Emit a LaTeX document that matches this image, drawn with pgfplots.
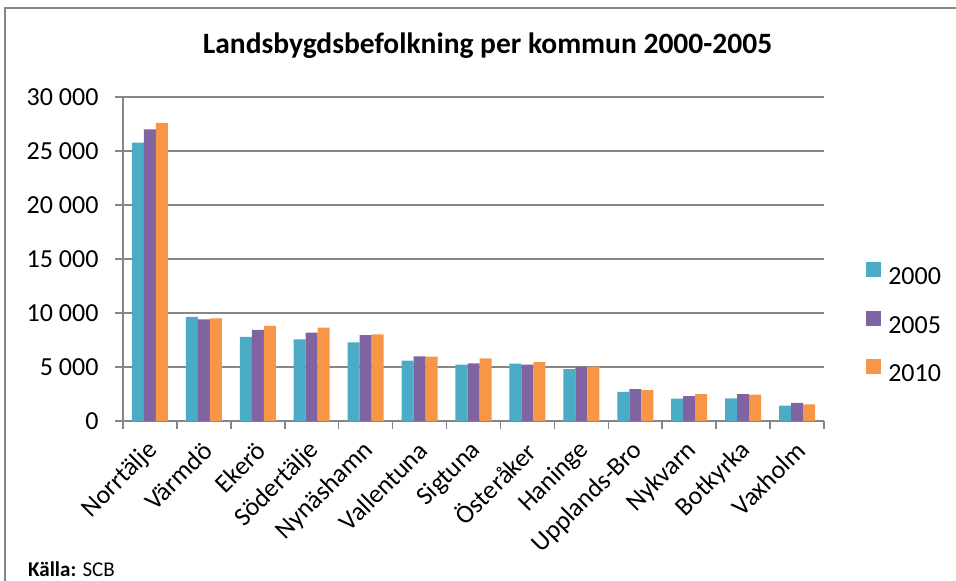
\documentclass[border=0pt]{standalone}
\usepackage{fontspec}
\setmainfont{Carlito}
\usepackage{pgfplots}
\pgfplotsset{compat=1.18}
\definecolor{c2000}{HTML}{4BACC6}
\definecolor{c2005}{HTML}{8064A2}
\definecolor{c2010}{HTML}{F79646}
\definecolor{gridgray}{HTML}{868686}
\pgfplotsset{sqleg/.style={legend image code/.code={\fill[##1] (0pt,0pt) rectangle (15pt,15pt);}}}
\pgfplotstableread{
x y2000 y2005 y2010
0 25770 27000 27600
1 9630 9410 9500
2 7780 8430 8800
3 7560 8180 8640
4 7270 7960 8020
5 5590 5990 5950
6 5220 5340 5800
7 5310 5220 5460
8 4810 5000 5030
9 2690 2960 2870
10 2070 2310 2500
11 2100 2500 2440
12 1420 1670 1550
}\datatable
\begin{document}
\begin{tikzpicture}[x=1pt,y=1pt]
\useasboundingbox (0,0) rectangle (956,581);
\draw[gridgray, line width=1.5pt] (5,0) -- (5,573) -- (956,573);
\node[font=\fontsize{29.5}{34}\selectfont\bfseries] at (487.5,535) {Landsbygdsbefolkning per kommun 2000-2005};
\node[anchor=base west, inner sep=0pt, font=\fontsize{21}{24}\selectfont] at (28,4) {\textbf{Källa:} SCB};
\begin{axis}[
  at={(123pt,160pt)}, anchor=south west,
  scale only axis, width=701pt, height=324pt,
  xmin=-0.5, xmax=12.5, ymin=0, ymax=30000,
  scaled y ticks=false,
  ybar, bar width=0.2226,
  axis x line*=bottom, axis y line*=left,
  axis line style={gridgray, line width=1.5pt},
  ymajorgrids, grid style={gridgray, line width=1.5pt},
  tick align=outside, major tick length=8pt,
  tick style={gridgray, line width=1.5pt},
  ytick={0,5000,10000,15000,20000,25000,30000},
  yticklabels={0,5 000,10 000,15 000,20 000,25 000,30 000},
  xtick={0,...,12},
  xticklabels={Norrtälje,Värmdö,Ekerö,Södertälje,Nynäshamn,Vallentuna,Sigtuna,Österåker,Haninge,Upplands-Bro,Nykvarn,Botkyrka,Vaxholm},
  major x tick style={draw=none},
  extra x ticks={-0.5,0.5,...,12.5},
  extra x tick labels={,,,,,,,,,,,,,},
  extra x tick style={major x tick style={draw=gridgray}, grid=none},
  tick label style={font=\fontsize{26}{30}\selectfont},
  yticklabel style={xshift=-13pt},
  xticklabel style={xshift=6pt, yshift=-15pt, rotate=45, anchor=east},
  /pgf/number format/assume math mode=true,
  legend style={at={(1.06,0.305)}, anchor=west, draw=none, fill=none, inner sep=0pt,
    font=\fontsize{26}{30}\selectfont, row sep=26pt, column sep=7pt,
    nodes={inner sep=0pt, text height=15pt, text depth=0pt}},
  legend cell align=left,
]
\addplot[fill=c2000, draw=none, bar shift=-0.2226, sqleg] table[x=x,y=y2000] {\datatable};
\addplot[fill=c2005, draw=none, bar shift=0, sqleg] table[x=x,y=y2005] {\datatable};
\addplot[fill=c2010, draw=none, bar shift=0.2226, sqleg] table[x=x,y=y2010] {\datatable};
\legend{2000,2005,2010}
\end{axis}
\end{tikzpicture}
\end{document}
